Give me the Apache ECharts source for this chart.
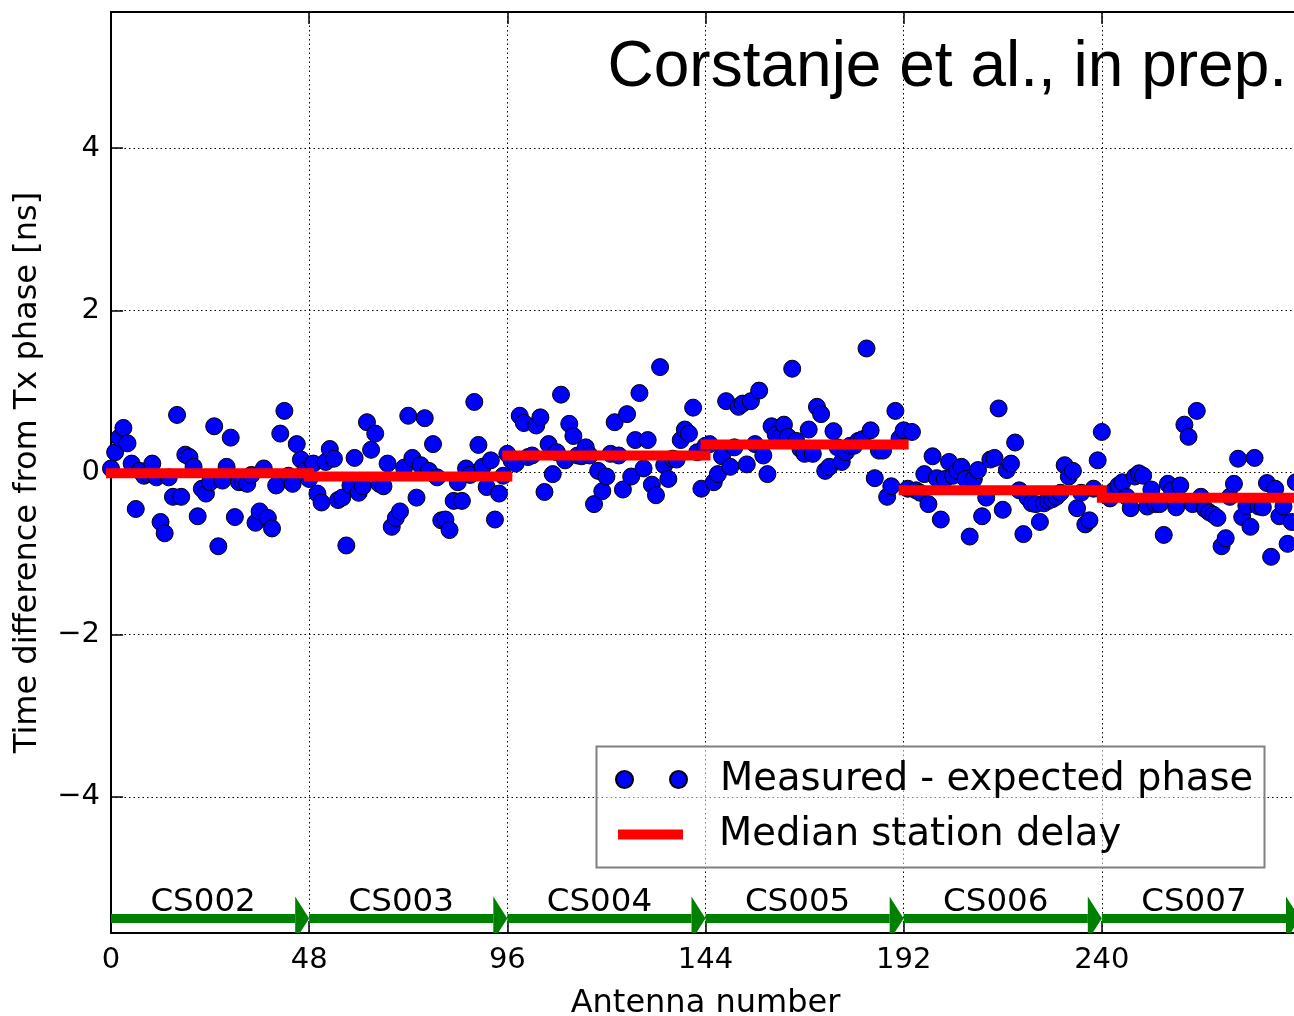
<!DOCTYPE html>
<html>
<head>
<meta charset="utf-8">
<title>Station delays</title>
<script src="https://cdn.jsdelivr.net/npm/echarts@6/dist/echarts.min.js"></script>
<style>
  html, body { margin: 0; padding: 0; background: #fff; }
  #chart { width: 1294px; height: 1016px; }
</style>
</head>
<body>
<div id="chart"></div>
<script>
// Stations and their antenna ranges
const stations = ['CS002', 'CS003', 'CS004', 'CS005', 'CS006', 'CS007'];
const stationStart = [0, 48, 96, 144, 192, 240];
const stationEnd = [48, 96, 144, 192, 240, 288];

// Median delay per station [ns]
const medianDelay = [-0.01, -0.05, 0.21, 0.345, -0.22, -0.31];

// Measured minus expected phase per antenna [ns], 48 antennas per station
const cs002 = [0.05, 0.25, 0.43, 0.55, 0.36, 0.11, -0.45, 0.02, -0.04, -0.02, 0.11, -0.06,
  -0.61, -0.75, -0.06, -0.30, 0.71, -0.30, 0.22, 0.19, 0.07, -0.54, -0.20, -0.26,
  -0.12, 0.57, -0.91, -0.10, 0.07, 0.43, -0.55, -0.12, -0.12, -0.14, -0.03, -0.62,
  -0.48, 0.05, -0.56, -0.69, -0.16, 0.48, 0.76, -0.04, -0.14, 0.35, 0.16, 0.02];
const cs003 = [-0.08, 0.11, -0.26, -0.37, 0.13, 0.29, 0.17, -0.34, -0.31, -0.90, -0.16, 0.18,
  -0.25, -0.17, 0.62, 0.28, 0.48, -0.14, -0.17, 0.11, -0.67, -0.56, -0.48, 0.06,
  0.70, 0.18, -0.31, 0.09, 0.67, 0.02, 0.35, -0.06, -0.59, -0.58, -0.71, -0.35,
  -0.12, -0.35, 0.05, -0.03, 0.87, 0.34, 0.07, -0.18, 0.15, -0.58, -0.26, -0.04];
const cs004 = [0.23, 0.15, 0.11, 0.70, 0.61, 0.19, 0.21, 0.58, 0.68, -0.24, 0.35, -0.02,
  0.25, 0.96, 0.15, 0.60, 0.45, 0.21, 0.20, 0.31, 0.21, -0.39, 0.02, -0.23,
  -0.05, 0.23, 0.62, 0.21, -0.21, 0.72, -0.05, 0.40, 0.98, 0.05, 0.40, -0.15,
  -0.28, 1.30, 0.09, -0.08, 0.17, 0.16, 0.40, 0.53, 0.48, 0.80, 0.25, -0.20];
const cs005 = [0.33, 0.35, -0.12, -0.02, 0.20, 0.88, 0.07, 0.31, 0.81, 0.85, 0.10, 0.88,
  0.35, 1.01, 0.21, -0.02, 0.57, 0.47, 0.43, 0.59, 0.44, 1.28, 0.39, 0.29,
  0.23, 0.53, 0.23, 0.81, 0.72, 0.02, 0.07, 0.51, 0.31, 0.13, 0.25, 0.33,
  0.33, 0.39, 0.41, 1.53, 0.52, -0.07, 0.27, 0.27, -0.30, -0.17, 0.76, 0.42];
const cs006 = [0.52, -0.20, 0.50, -0.22, -0.25, -0.02, -0.39, 0.20, -0.07, -0.58, -0.08, 0.13,
  -0.04, 0.02, 0.07, -0.08, -0.79, -0.08, 0.03, -0.54, -0.31, 0.16, 0.18, 0.79,
  -0.46, 0.03, 0.11, 0.37, -0.22, -0.76, -0.31, -0.38, -0.39, -0.61, -0.38, -0.35,
  -0.33, -0.30, -0.25, 0.09, -0.05, 0.02, -0.44, -0.25, -0.64, -0.59, -0.20, 0.15];
const cs007 = [0.50, -0.28, -0.32, -0.22, -0.16, -0.12, -0.30, -0.44, -0.05, -0.01, -0.04, -0.42,
  -0.21, -0.39, -0.39, -0.77, -0.14, -0.22, -0.43, -0.16, 0.59, 0.44, -0.39, 0.76,
  -0.30, -0.45, -0.49, -0.52, -0.56, -0.91, -0.81, -0.30, -0.14, 0.17, -0.55, -0.41,
  -0.67, 0.18, -0.42, -0.43, -0.13, -1.04, -0.20, -0.54, -0.42, -0.88, -0.61, -0.12];

const stationValues = [cs002, cs003, cs004, cs005, cs006, cs007];

// Layout constants (data units on the y axis for the station arrows)
const ARROW_Y = -5.5;
const LABEL_Y = -5.31;
const GREEN = '#008000';
const AXIS_FONT = 'DejaVu Sans';

// Scatter points: antenna number vs. delay
const measured = [];
stationValues.forEach(function (vals, s) {
  vals.forEach(function (v, i) { measured.push([stationStart[s] + i, v]); });
});

// Median segments, one per station, separated by gaps
const medianLine = [];
stations.forEach(function (name, s) {
  medianLine.push([stationStart[s], medianDelay[s]]);
  medianLine.push([stationEnd[s], medianDelay[s]]);
  medianLine.push([stationEnd[s], '-']);
});

const arrowData = stations.map(function (name, s) { return [stationStart[s], stationEnd[s]]; });

function fmtY(v) {
  if (Math.abs(v - Math.round(v)) > 1e-6) return '';
  return v < 0 ? '\u2212' + Math.abs(v) : String(v);
}

const chart = echarts.init(document.getElementById('chart'), null, { renderer: 'canvas' });

const dotted = { color: '#000', width: 1, type: [1.5, 3] };

chart.setOption({
  backgroundColor: '#fff',
  animation: false,
  title: {
    text: 'Corstanje et al., in prep.',
    right: 7,
    top: 36,
    padding: 0,
    textStyle: { fontSize: 64, fontFamily: 'Liberation Sans', fontWeight: 'normal', color: '#000' }
  },
  grid: { left: 111, top: 12, width: 1189, height: 921, containLabel: false, outerBoundsMode: 'none' },
  xAxis: [{
    type: 'value',
    min: 0, max: 288, interval: 48,
    name: 'Antenna number',
    nameLocation: 'middle',
    nameGap: 55,
    nameTextStyle: { fontSize: 32, fontFamily: AXIS_FONT, color: '#000' },
    axisLine: { show: true, onZero: false, lineStyle: { color: '#000', width: 2 } },
    axisTick: { show: true, inside: true, length: 12, lineStyle: { color: '#000', width: 1.5 } },
    axisLabel: { show: true, margin: 13, showMaxLabel: false, fontSize: 29, fontFamily: AXIS_FONT, color: '#000' },
    splitLine: { show: true, lineStyle: dotted }
  }, {
    type: 'value',
    position: 'top',
    min: 0, max: 288, interval: 48,
    axisLine: { show: true, onZero: false, lineStyle: { color: '#000', width: 2 } },
    axisTick: { show: true, inside: true, length: 12, lineStyle: { color: '#000', width: 1.5 } },
    axisLabel: { show: false },
    splitLine: { show: false }
  }],
  yAxis: {
    type: 'value',
    min: -5.68, max: 5.68, splitNumber: 5,
    name: 'Time difference from Tx phase [ns]',
    nameLocation: 'middle',
    nameGap: 67,
    nameRotate: 90,
    nameTextStyle: { fontSize: 32, fontFamily: AXIS_FONT, color: '#000' },
    axisLine: { show: true, onZero: false, lineStyle: { color: '#000', width: 2 } },
    axisTick: { show: true, inside: true, length: 12, lineStyle: { color: '#000', width: 1.5 } },
    axisLabel: { show: true, margin: 11, showMinLabel: false, showMaxLabel: false,
      formatter: fmtY, fontSize: 29, fontFamily: AXIS_FONT, color: '#000' },
    splitLine: { show: true, lineStyle: dotted }
  },
  legend: [{
    data: ['Measured - expected phase'],
    left: 615, top: 760, padding: 0,
    itemWidth: 71, itemHeight: 17,
    icon: 'path://M0,8.5a8.5,8.5 0 1,0 17,0a8.5,8.5 0 1,0 -17,0zM54,8.5a8.5,8.5 0 1,0 17,0a8.5,8.5 0 1,0 -17,0z',
    selectedMode: false,
    textStyle: { fontSize: 38.5, fontFamily: AXIS_FONT, color: '#000', padding: [0, 0, 0, 28] }
  }, {
    data: ['Median station delay'],
    left: 618, top: 815, padding: 0,
    itemWidth: 65, itemHeight: 10,
    icon: 'rect',
    selectedMode: false,
    textStyle: { fontSize: 38.5, fontFamily: AXIS_FONT, color: '#000', padding: [0, 0, 0, 31] }
  }],
  graphic: [{
    type: 'rect',
    z: 3,
    shape: { x: 596.5, y: 746.5, width: 668, height: 121 },
    style: { fill: 'rgba(255,255,255,0.5)', stroke: '#808080', lineWidth: 2 },
    silent: true
  }],
  series: [{
    type: 'custom',
    name: 'stations',
    silent: true,
    z: 1,
    data: arrowData,
    encode: { x: [0, 1] },
    renderItem: function (params, api) {
      const x0 = api.value(0), x1 = api.value(1);
      const p0 = api.coord([x0, ARROW_Y]);
      const p1 = api.coord([x1, ARROW_Y]);
      const yBottom = params.coordSys.y + params.coordSys.height;
      const cy = p0[1];
      const headLen = 14, headHalf = 22, shaftHalf = 4.5;
      const hb = p1[0] - headLen;
      const xCut = p1[0] - headLen * (yBottom - cy) / headHalf;
      const ly = api.coord([x0, LABEL_Y])[1];
      return {
        type: 'group',
        children: [{
          type: 'rect',
          shape: { x: p0[0], y: cy - shaftHalf, width: hb - p0[0], height: 2 * shaftHalf },
          style: { fill: GREEN }
        }, {
          type: 'polygon',
          shape: { points: [[hb, cy - headHalf], [p1[0], cy], [xCut, yBottom], [hb, yBottom]] },
          style: { fill: GREEN }
        }, {
          type: 'text',
          x: (p0[0] + hb) / 2,
          y: ly,
          style: {
            text: stations[params.dataIndex],
            fill: '#000',
            font: '32.5px "DejaVu Sans"',
            align: 'center',
            verticalAlign: 'middle'
          }
        }]
      };
    }
  }, {
    type: 'scatter',
    name: 'Measured - expected phase',
    data: measured,
    symbol: 'circle',
    symbolSize: 17,
    z: 2,
    itemStyle: { color: '#0000ff', borderColor: '#000', borderWidth: 1, opacity: 1 }
  }, {
    type: 'line',
    name: 'Median station delay',
    data: medianLine,
    symbol: 'none',
    connectNulls: false,
    clip: true,
    z: 3,
    itemStyle: { color: '#ff0000' },
    lineStyle: { color: '#ff0000', width: 10, cap: 'square' }
  }]
});
</script>
</body>
</html>
